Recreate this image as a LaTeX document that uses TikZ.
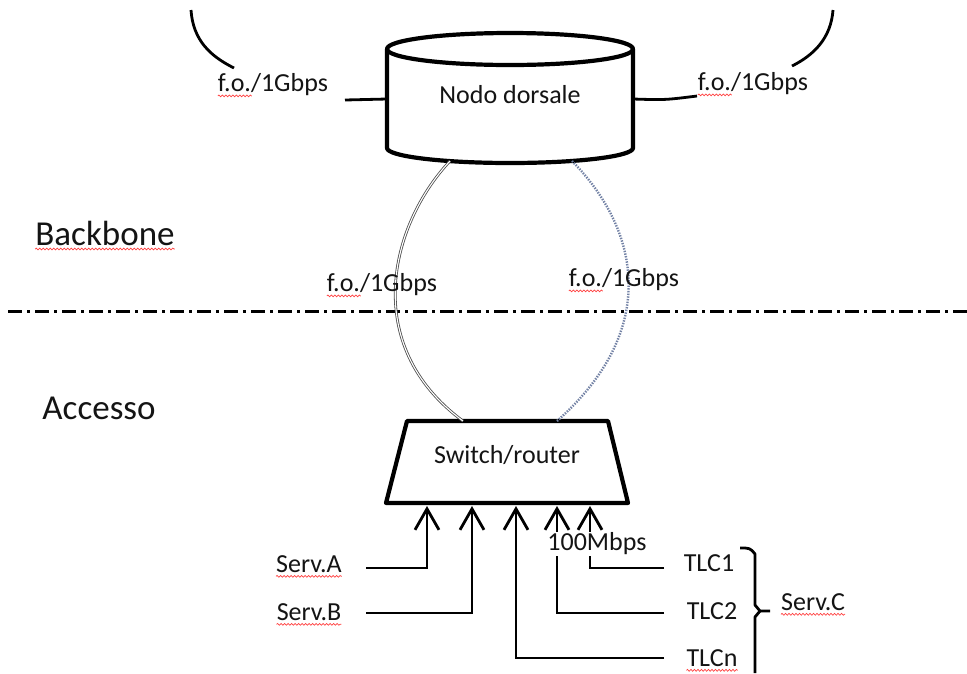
\documentclass[tikz,border=0pt]{standalone}
\usepackage{fontspec}
\setmainfont{Carlito}
\usetikzlibrary{arrows.meta,decorations.pathmorphing}
\definecolor{dotblue}{RGB}{115,130,165}
\definecolor{ink}{RGB}{20,20,20}
\begin{document}
\begin{tikzpicture}[x=1pt,y=-1pt,
  lbl/.style={inner sep=0pt, font=\fontsize{26}{30}\selectfont, text=ink},
  big/.style={inner sep=0pt, font=\fontsize{35}{40}\selectfont, text=ink},
  wire/.style={line width=2.8pt},
  heavy/.style={line width=4.2pt, line join=round},
  up/.style={line width=2.8pt, -{Straight Barb[length=21pt,width=24pt]}},
  squig/.style={draw=red!75, line width=0.7pt, decorate,
    decoration={snake, amplitude=0.9pt, segment length=3.5pt}},
  fibre/.style={double=white, draw=black!70, line width=0.8pt, double distance=1.1pt},
  fibredot/.style={draw=dotblue, line width=2.4pt, dash pattern=on 1.4pt off 1.3pt},
]
\fill[white] (0,0) rectangle (967,673);
\useasboundingbox (0,0) rectangle (967,673);

% separator
\coordinate (sepL) at (8,311);
\coordinate (sepR) at (967,311);
\draw[line width=3pt, dash pattern=on 14pt off 5pt on 3pt off 5pt] (sepL) -- (sepR);

% layer labels
\node[big] (bb) at (105,233) {Backbone};
\node[big] (acc) at (99,408) {Accesso};

% backbone node (cylinder)
\coordinate (cl) at (387,99);
\coordinate (cr) at (633,99);
\coordinate (cb1) at (450,161);
\coordinate (cb2) at (572,161);
\draw[heavy, fill=white] (387,49) -- (387,148) arc[start angle=180, end angle=360, x radius=123pt, y radius=15pt] -- (633,49);
\draw[heavy, fill=white] (510,49) ellipse [x radius=123pt, y radius=16pt];
\node[lbl] (nodo) at (510,95) {Nodo dorsale};

% upper links
\coordinate (aL1) at (191,10);
\coordinate (aL2) at (234,68);
\coordinate (aR1) at (833,10);
\coordinate (aR2) at (792,66);
\draw[wire] (aL1) .. controls (193,40) and (210,56) .. (aL2);
\draw[wire] (aR1) .. controls (831,38) and (814,55) .. (aR2);
\coordinate (lineL) at (345,100);
\coordinate (lineR) at (697,96);
\draw[wire] (lineL) -- (cl);
\draw[wire] (cr) .. controls (665,100) .. (lineR);
\node[lbl] (foL) at (273,85) {f.o./1Gbps};
\node[lbl] (foR) at (753,84) {f.o./1Gbps};

% switch
\coordinate (sw1) at (463,421);
\coordinate (sw2) at (557,421);
\draw[heavy] (407,421) -- (608,421) -- (628,503) -- (386,503) -- cycle;
\node[lbl] (sw) at (507,455) {Switch/router};

% links node - switch
\draw[fibre] (cb1) .. controls (390,225) and (360,345) .. (sw1);
\draw[fibredot] (cb2) .. controls (640,230) and (660,330) .. (sw2);
\node[lbl] (foM1) at (382,285) {f.o./1Gbps};
\node[lbl] (foM2) at (624,280) {f.o./1Gbps};

% access links
\coordinate (b1) at (427,506);
\coordinate (b2) at (472,506);
\coordinate (b3) at (516,506);
\coordinate (b4) at (557,506);
\coordinate (b5) at (590,506);

\node[lbl] (sa) at (309,564) {Serv.A};
\node[lbl] (sb) at (309,612) {Serv.B};
\coordinate (sa0) at (366,568);
\coordinate (sb0) at (366,613);
\draw[up] (sa0) -- (427,568) -- (b1);
\draw[up] (sb0) -- (472,613) -- (b2);

\node[lbl] (t1) at (709,563) {TLC1};
\node[lbl] (t2) at (712,611) {TLC2};
\node[lbl] (tn) at (712,658) {TLCn};
\coordinate (t10) at (664,568);
\coordinate (t20) at (664,613);
\coordinate (tn0) at (664,658);
\draw[up] (tn0) -- (516,658) -- (b3);
\draw[up] (t20) -- (557,613) -- (b4);
\draw[up] (t10) -- (590,568) -- (b5);
\node[lbl, fill=white, inner ysep=1pt] (mb) at (597,544) {100Mbps};

% brace
\coordinate (brT) at (740,548);
\coordinate (brB) at (755,673);
\coordinate (brM) at (770,611);
\draw[wire, line join=round] (brT) .. controls (750,548) .. (755,554) -- (755,605) -- (760,611) -- (brM);
\draw[wire, line join=round] (760,611) -- (755,617) -- (brB);
\node[lbl] (sc) at (813,602) {Serv.C};

% spell-check squiggles
\draw[squig] ([yshift=-4pt]foL.base west) -- ++(34,0);
\draw[squig] ([yshift=-4pt]foR.base west) -- ++(34,0);
\draw[squig] ([yshift=-4pt]foM1.base west) -- ++(34,0);
\draw[squig] ([yshift=-4pt]foM2.base west) -- ++(34,0);
\draw[squig] ([yshift=-4pt]bb.base west) -- ([yshift=-4pt]bb.base east);
\draw[squig] ([yshift=-4pt]sa.base west) -- ([yshift=-4pt]sa.base east);
\draw[squig] ([yshift=-4pt]sb.base west) -- ([yshift=-4pt]sb.base east);
\draw[squig] ([yshift=-4pt]sc.base west) -- ([yshift=-4pt]sc.base east);
\draw[squig] ([yshift=-4pt]tn.base west) -- ([yshift=-4pt]tn.base east);
\end{tikzpicture}
\end{document}
